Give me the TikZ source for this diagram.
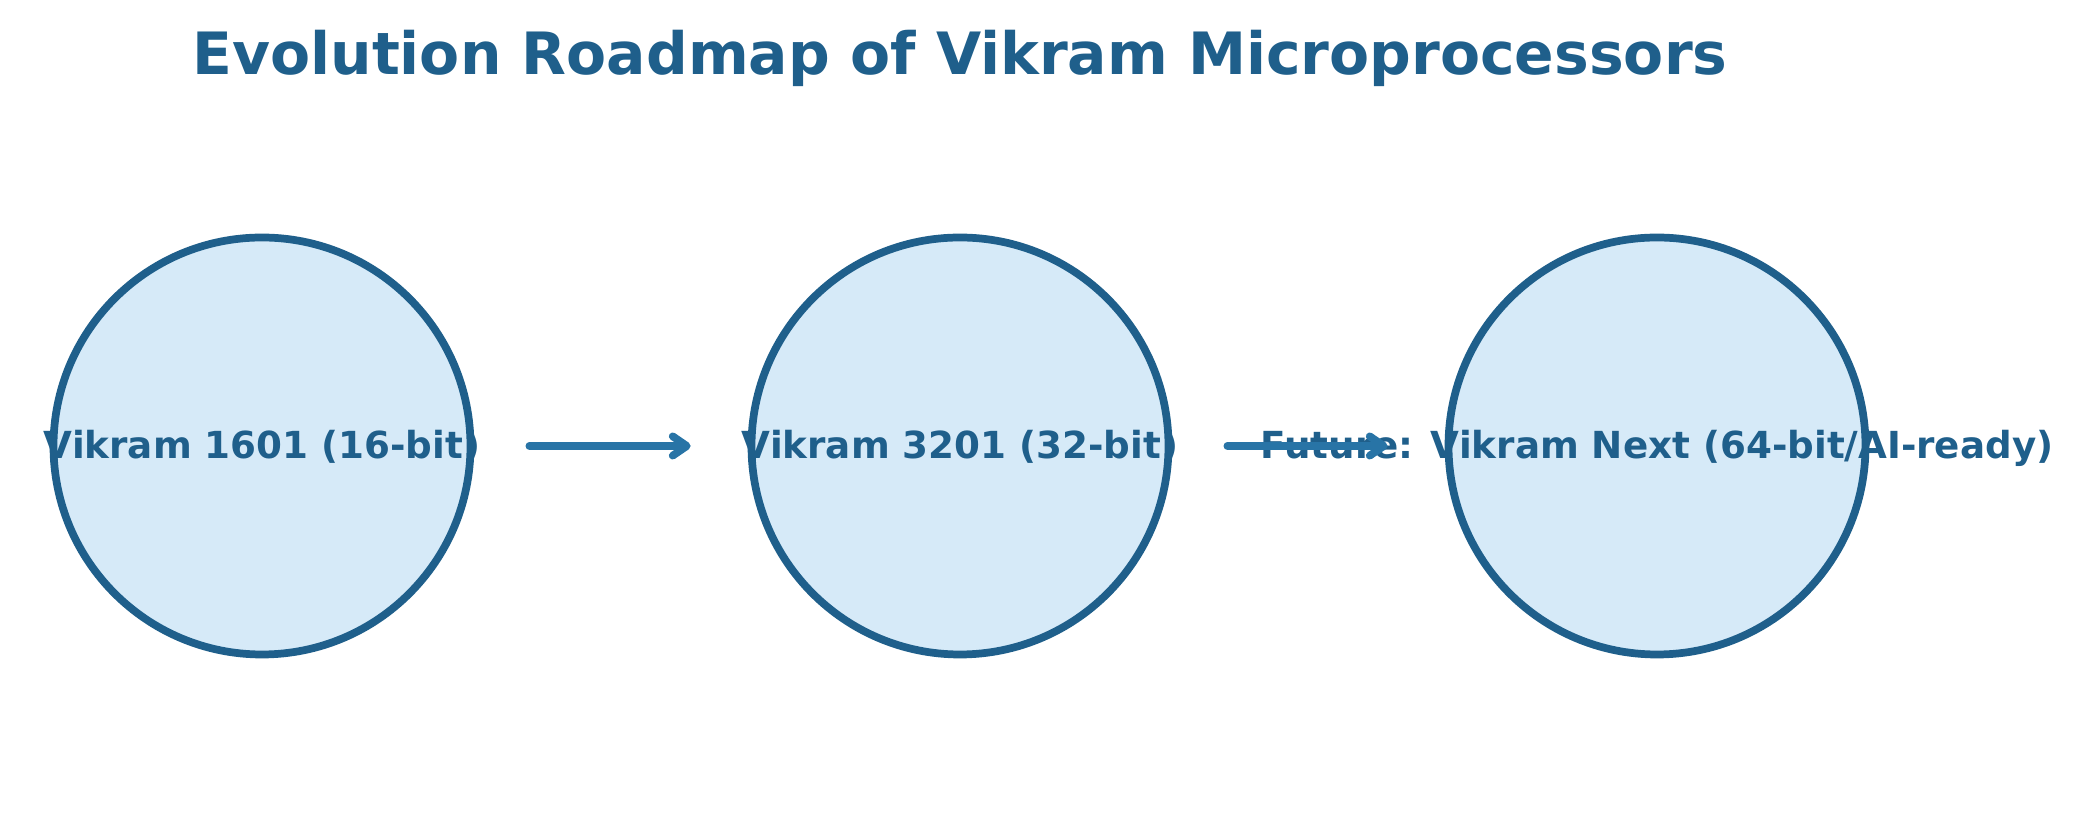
\documentclass[tikz,border=0pt]{standalone}
\usepackage{fontspec}
\setmainfont{DejaVu Sans}
\usetikzlibrary{arrows.meta}
\definecolor{roadblue}{HTML}{1F5F8B}
\definecolor{arrowblue}{HTML}{2874A6}
\definecolor{chipfill}{HTML}{D6EAF8}
\begin{document}
\begin{tikzpicture}
  \tikzstyle{chip}=[circle,fill=chipfill,minimum size=4.17cm,inner sep=0pt]
  \tikzstyle{chip ring}=[circle,draw=roadblue,line width=2.2pt,minimum size=4.17cm,inner sep=0pt]
  \tikzstyle{chiptext}=[text=roadblue,font=\bfseries\fontsize{10.6}{12}\selectfont,anchor=base]
  \tikzstyle{step arrow}=[draw=arrowblue,line width=2.2pt,line cap=round,-{Straight Barb[length=4pt,width=5.5pt,round]}]
  \useasboundingbox (0,0) rectangle (20.84,8.23);
  \node[text=roadblue,font=\bfseries\fontsize{16.6}{20}\selectfont,anchor=base] (title) at (9.60,7.48) {Evolution Roadmap of Vikram Microprocessors};
  % the three generations
  \node[chip] (v16) at (2.62,3.77) {};
  \node[chip] (v32) at (9.60,3.77) {};
  \node[chip] (vnext) at (16.57,3.77) {};
  \node[chiptext] (t16) at (2.62,3.645) {Vikram 1601 (16-bit)};
  \node[chiptext] (t32) at (9.60,3.645) {Vikram 3201 (32-bit)};
  \node[chiptext] (tnext) at (16.57,3.645) {Future: Vikram Next (64-bit/AI-ready)};
  \node[chip ring] (r16) at (v16) {};
  \node[chip ring] (r32) at (v32) {};
  \node[chip ring] (rnext) at (vnext) {};
  \draw[step arrow,shorten <=0.55cm,shorten >=0.57cm] (r16.east) -- (r32.west);
  \draw[step arrow,shorten <=0.55cm,shorten >=0.57cm] (r32.east) -- (rnext.west);
\end{tikzpicture}
\end{document}
